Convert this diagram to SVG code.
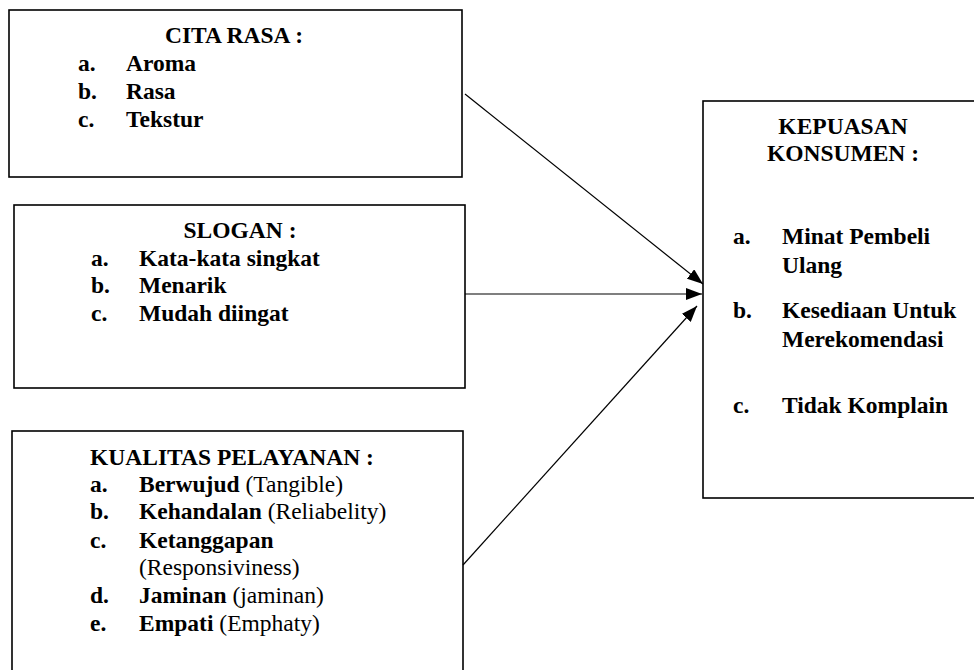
<svg xmlns="http://www.w3.org/2000/svg" width="974" height="670" viewBox="0 0 974 670">
<defs>
<marker id="arr" markerWidth="16" markerHeight="12" refX="16" refY="6" orient="auto" markerUnits="userSpaceOnUse">
<path d="M0,0 L16,6 L0,12 Z" fill="#000"/>
</marker>
</defs>
<style>
.box{fill:#fff;stroke:#000;stroke-width:1.6}
text{font-family:"Liberation Serif","Times New Roman",serif;font-size:23.5px;fill:#000}
.b{font-weight:bold}
.n{font-weight:normal}
.c{text-anchor:middle}
.ln{stroke:#000;stroke-width:1.2;fill:none;marker-end:url(#arr)}
</style>
<rect width="974" height="670" fill="#fff"/>
<g id="cita-rasa">
<rect class="box" x="9" y="10" width="453" height="167"/>
<text class="b c" x="234" y="43">CITA RASA :</text>
<text class="b" x="78" y="71">a.</text><text class="b" x="126" y="71">Aroma</text>
<text class="b" x="78" y="99">b.</text><text class="b" x="126" y="99">Rasa</text>
<text class="b" x="78" y="127">c.</text><text class="b" x="126" y="127">Tekstur</text>
</g>
<g id="slogan">
<rect class="box" x="14" y="205" width="451" height="183"/>
<text class="b c" x="240" y="238">SLOGAN :</text>
<text class="b" x="91" y="266">a.</text><text class="b" x="139" y="266">Kata-kata singkat</text>
<text class="b" x="91" y="293">b.</text><text class="b" x="139" y="293">Menarik</text>
<text class="b" x="91" y="321">c.</text><text class="b" x="139" y="321">Mudah diingat</text>
</g>
<g id="kualitas-pelayanan">
<rect class="box" x="12" y="431" width="451" height="250"/>
<text class="b" x="90" y="465">KUALITAS PELAYANAN :</text>
<text class="b" x="90" y="492">a.</text><text x="139" y="492"><tspan class="b">Berwujud</tspan><tspan class="n">  (Tangible)</tspan></text>
<text class="b" x="90" y="519">b.</text><text x="139" y="519"><tspan class="b">Kehandalan</tspan><tspan class="n"> (Reliabelity)</tspan></text>
<text class="b" x="90" y="548">c.</text><text class="b" x="139" y="548">Ketanggapan</text>
<text class="n" x="139" y="575">(Responsiviness)</text>
<text class="b" x="90" y="603">d.</text><text x="139" y="603"><tspan class="b">Jaminan</tspan><tspan class="n"> (jaminan)</tspan></text>
<text class="b" x="90" y="631">e.</text><text x="139" y="631"><tspan class="b">Empati</tspan><tspan class="n"> (Emphaty)</tspan></text>
</g>
<g id="kepuasan-konsumen">
<rect class="box" x="703" y="101" width="290" height="397"/>
<text class="b c" x="843" y="134">KEPUASAN</text>
<text class="b c" x="843" y="161">KONSUMEN :</text>
<text class="b" x="733" y="244">a.</text><text class="b" x="782" y="244">Minat Pembeli</text>
<text class="b" x="782" y="273">Ulang</text>
<text class="b" x="733" y="318">b.</text><text class="b" x="782" y="318">Kesediaan Untuk</text>
<text class="b" x="782" y="347">Merekomendasi</text>
<text class="b" x="733" y="413">c.</text><text class="b" x="782" y="413">Tidak Komplain</text>
</g>
<g id="connectors">
<line class="ln" x1="465" y1="94" x2="703" y2="284"/>
<line class="ln" x1="465" y1="294" x2="702" y2="294"/>
<line class="ln" x1="463" y1="565" x2="697" y2="306"/>
</g>
</svg>
